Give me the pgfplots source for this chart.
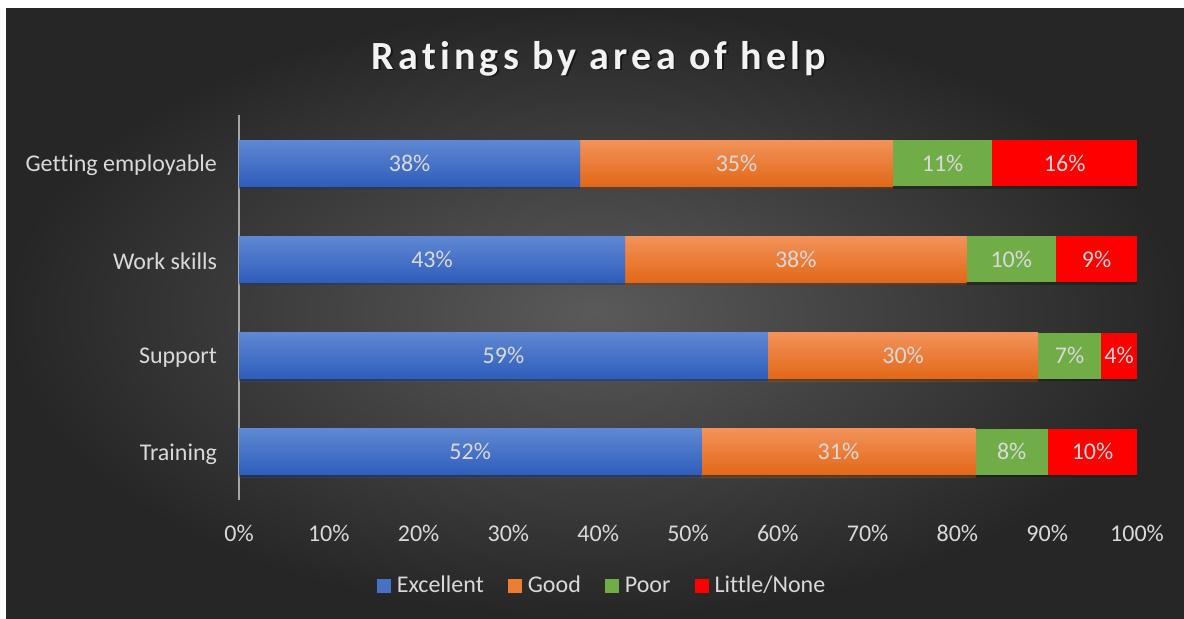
\documentclass[border=0pt]{standalone}
\usepackage{fontspec}
\setmainfont{Carlito}[Ligatures=NoCommon]
\usepackage{pgfplots}
\pgfplotsset{compat=1.18}
\definecolor{bgin}{HTML}{5A5A5A}
\definecolor{bgout}{HTML}{262626}
\definecolor{txt}{HTML}{D9D9D9}
\definecolor{blueT}{HTML}{5F88D3}
\definecolor{blueB}{HTML}{2F5DBA}
\definecolor{blueL}{HTML}{4472C4}
\definecolor{orangeT}{HTML}{F2925A}
\definecolor{orangeB}{HTML}{E36817}
\definecolor{orangeL}{HTML}{ED7D31}
\definecolor{greenC}{HTML}{70AD47}
\definecolor{redC}{HTML}{FF0000}
\definecolor{axisC}{HTML}{A6A6A6}
\pgfplotsset{
  common/.style={
    at={(119.5pt,59pt)}, anchor=south west,
    scale only axis, width=449pt, height=192.5pt,
    xbar stacked, bar width=23pt,
    xmin=0, xmax=100, ymin=-0.5, ymax=3.5,
    nodes near coords={\pgfplotspointmeta\%},
    point meta=explicit symbolic,
    nodes near coords style={text=txt, font=\fontsize{12}{14}\selectfont},
  },
  shadowbar/.style={preaction={fill=black, fill opacity=0.25,
    transform canvas={shift={(0pt,-1.3pt)}}}},
}
% one bar (category) per axis, so that each bar gets its own vertical gradient
% args: y, Excellent, Good, Poor, Little/None, and the four printed labels
\newcommand{\barrow}[9]{%
\begin{axis}[common, hide axis]
\addplot[draw=none, shadowbar, top color=blueT, bottom color=blueB] coordinates {(#2,#1) [#6]};
\addplot[draw=none, shadowbar, top color=orangeT, bottom color=orangeB] coordinates {(#3,#1) [#7]};
\addplot[draw=none, shadowbar, fill=greenC] coordinates {(#4,#1) [#8]};
\addplot[draw=none, shadowbar, fill=redC] coordinates {(#5,#1) [#9]};
\end{axis}}
\begin{document}
\begin{tikzpicture}
\fill[white] (0,0) rectangle (592pt,309pt);
\shade[inner color=bgin, outer color=bgout] (3pt,0) rectangle (592pt,305pt);
\node[text=black, opacity=0.5, anchor=base, font=\fontsize{20}{24}\selectfont\bfseries\addfontfeature{LetterSpace=10.5}] at (300.3pt,273.7pt) {Ratings by area of help};
\node[text=white!95!black, anchor=base, font=\fontsize{20}{24}\selectfont\bfseries\addfontfeature{LetterSpace=10.5}] at (299.5pt,274.5pt) {Ratings by area of help};
\begin{axis}[
  common,
  ytick={0,1,2,3},
  yticklabels={Training,Support,Work skills,Getting employable},
  xtick={0,10,...,100},
  xticklabels={0\%,10\%,20\%,30\%,40\%,50\%,60\%,70\%,80\%,90\%,100\%},
  axis lines*=left,
  x axis line style={draw=none},
  y axis line style={draw=axisC, line width=1pt},
  major tick length=0pt,
  tick label style={text=txt, font=\fontsize{12}{14}\selectfont},
  xticklabel style={yshift=-9pt},
  yticklabel style={xshift=-7.5pt, yshift=-1pt},
  legend style={at={(0.4065,-0.2234)}, anchor=center, legend columns=-1,
    draw=none, fill=none, text=txt, font=\fontsize{12}{14}\selectfont,
    nodes={inner xsep=3pt},
    /tikz/every even column/.append style={column sep=9pt},
    /tikz/every odd column/.append style={column sep=0pt}},
  legend image code/.code={\path[#1] (0pt,-3.5pt) rectangle (7pt,3.5pt);},
]
\addlegendimage{draw=none, fill=blueL}
\addlegendimage{draw=none, fill=orangeL}
\addlegendimage{draw=none, fill=greenC}
\addlegendimage{draw=none, fill=redC}
\legend{Excellent,Good,Poor,Little/None}
\end{axis}
\barrow{0}{51.5}{30.5}{8.1}{9.9}{52}{31}{8}{10}
\barrow{1}{58.9}{30.1}{7.0}{4.0}{59}{30}{7}{4}
\barrow{2}{43.0}{38.0}{10.0}{9.0}{43}{38}{10}{9}
\barrow{3}{38.0}{34.8}{11.1}{16.1}{38}{35}{11}{16}
\end{tikzpicture}
\end{document}
